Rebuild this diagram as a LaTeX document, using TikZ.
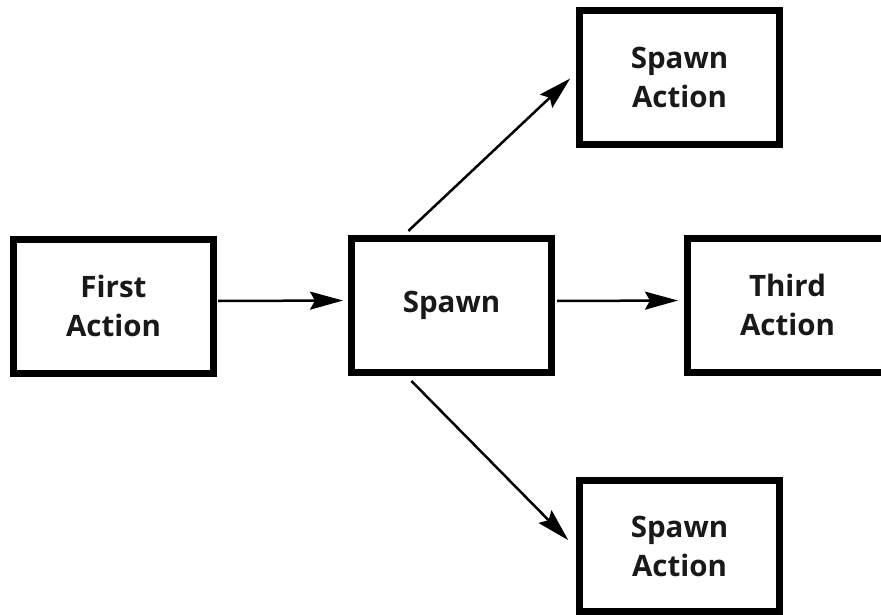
\documentclass[tikz,border=0pt]{standalone}
\usepackage{fontspec}
\setmainfont{Open Sans}
\usetikzlibrary{arrows.meta}
\begin{document}
\begin{tikzpicture}[x=1pt,y=-1pt,
  box/.style={draw=black, line width=7pt, fill=white, minimum width=200pt, minimum height=134pt,
    inner sep=0pt, align=center, font=\fontsize{29.5}{39}\selectfont\bfseries, text=black!90},
  arr/.style={line width=2.5pt, -{Stealth[length=33pt,width=18pt,inset=5pt]}}]
\clip (0,0) rectangle (881,615);
\useasboundingbox (0,0) rectangle (881,615);
\fill[white] (0,0) rectangle (881,615);
\node[box] (first) at (113.5,306) {First\\Action};
\node[box] (spawn) at (451.5,305.5) {Spawn};
\node[box] (third) at (787.5,305) {Third\\Action};
\node[box] (top) at (679.5,77.5) {Spawn\\Action};
\node[box, minimum height=131pt] (bot) at (679.5,546) {Spawn\\Action};
\draw[arr, shorten <=1pt, shorten >=5pt] ([yshift=5pt]first.east) -- ([yshift=5pt]spawn.west);
\draw[arr, shorten <=2pt, shorten >=6pt] ([yshift=4.5pt]spawn.east) -- ([yshift=4.5pt]third.west);
\draw[arr, shorten <=6pt, shorten >=8pt] ([xshift=-47.5pt]spawn.north) -- ([yshift=4.5pt]top.west);
\draw[arr, shorten <=7pt, shorten >=11pt] ([xshift=-45pt]spawn.south) -- ([yshift=-2pt]bot.west);
\end{tikzpicture}
\end{document}
